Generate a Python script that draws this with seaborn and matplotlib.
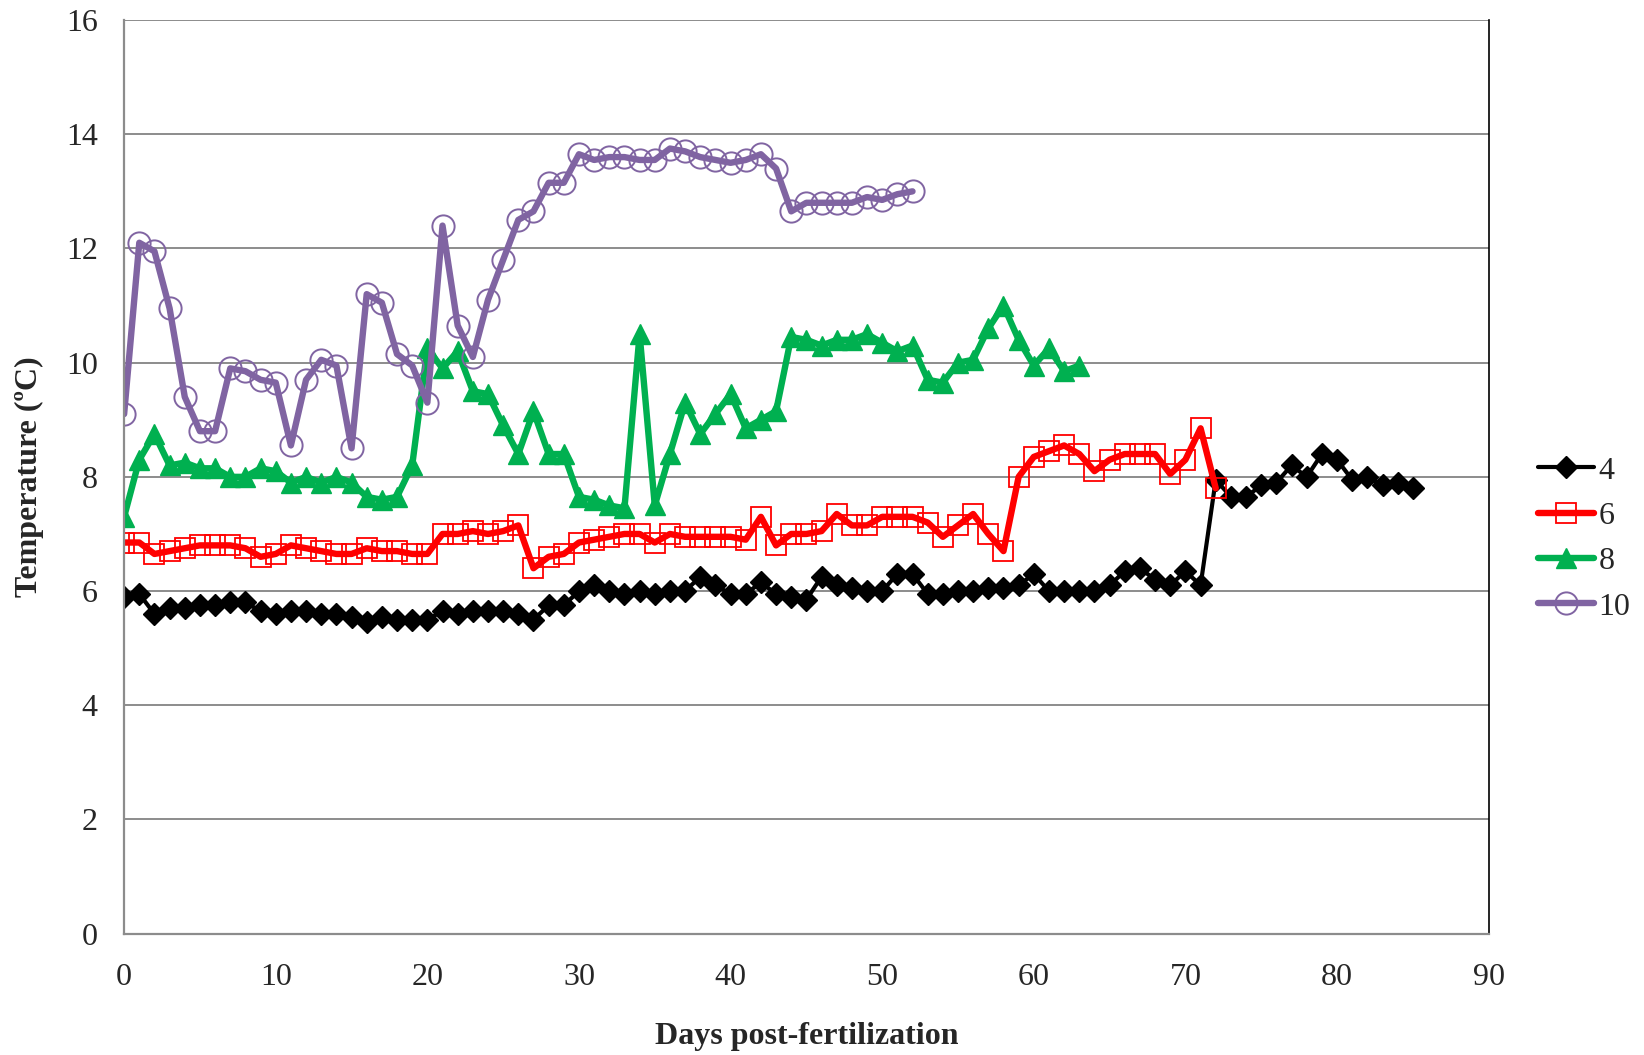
import numpy as np
import pandas as pd
import seaborn as sns
import matplotlib.pyplot as plt

# daily mean temperatures per treatment group
temp_4 = [5.9, 5.95, 5.6, 5.7, 5.7, 5.75, 5.75, 5.8, 5.8, 5.65,
          5.6, 5.65, 5.65, 5.6, 5.6, 5.55, 5.45, 5.55, 5.5, 5.5,
          5.5, 5.65, 5.6, 5.65, 5.65, 5.65, 5.6, 5.5, 5.75, 5.75,
          6.0, 6.1, 6.0, 5.95, 6.0, 5.95, 6.0, 6.0, 6.25, 6.1,
          5.95, 5.95, 6.15, 5.95, 5.9, 5.85, 6.25, 6.1, 6.05, 6.0,
          6.0, 6.3, 6.3, 5.95, 5.95, 6.0, 6.0, 6.05, 6.05, 6.1,
          6.3, 6.0, 6.0, 6.0, 6.0, 6.1, 6.35, 6.4, 6.2, 6.1,
          6.35, 6.1, 7.95, 7.65, 7.65, 7.85, 7.9, 8.2, 8.0, 8.4,
          8.3, 7.95, 8.0, 7.85, 7.9, 7.8]
temp_6 = [6.85, 6.85, 6.65, 6.7, 6.75, 6.8, 6.8, 6.8, 6.75, 6.6,
          6.65, 6.8, 6.75, 6.7, 6.65, 6.65, 6.75, 6.7, 6.7, 6.65,
          6.65, 7.0, 7.0, 7.05, 7.0, 7.05, 7.15, 6.4, 6.6, 6.65,
          6.85, 6.9, 6.95, 7.0, 7.0, 6.85, 7.0, 6.95, 6.95, 6.95,
          6.95, 6.9, 7.3, 6.8, 7.0, 7.0, 7.05, 7.35, 7.15, 7.15,
          7.3, 7.3, 7.3, 7.2, 6.95, 7.15, 7.35, 7.0, 6.7, 8.0,
          8.35, 8.45, 8.55, 8.4, 8.1, 8.3, 8.4, 8.4, 8.4, 8.05,
          8.3, 8.85, 7.8]
temp_8 = [7.3, 8.3, 8.75, 8.2, 8.25, 8.15, 8.15, 8.0, 8.0, 8.15,
          8.1, 7.9, 8.0, 7.9, 8.0, 7.9, 7.65, 7.6, 7.65, 8.2,
          10.25, 9.9, 10.2, 9.5, 9.45, 8.9, 8.4, 9.15, 8.4, 8.4,
          7.65, 7.6, 7.5, 7.45, 10.5, 7.5, 8.4, 9.3, 8.75, 9.1,
          9.45, 8.85, 9.0, 9.15, 10.45, 10.4, 10.3, 10.4, 10.4, 10.5,
          10.35, 10.2, 10.3, 9.7, 9.65, 10.0, 10.05, 10.6, 11.0, 10.4,
          9.95, 10.25, 9.85, 9.95]
temp_10 = [9.1, 12.1, 11.95, 10.95, 9.4, 8.8, 8.8, 9.9, 9.85, 9.7,
           9.65, 8.55, 9.7, 10.05, 9.95, 8.5, 11.2, 11.05, 10.15, 9.95,
           9.3, 12.4, 10.65, 10.1, 11.1, 11.8, 12.5, 12.65, 13.15, 13.15,
           13.65, 13.55, 13.6, 13.6, 13.55, 13.55, 13.75, 13.7, 13.6, 13.55,
           13.5, 13.55, 13.65, 13.4, 12.65, 12.8, 12.8, 12.8, 12.8, 12.9,
           12.85, 12.95, 13.0]

series = {'4': temp_4, '6': temp_6, '8': temp_8, '10': temp_10}
styles = {
    '4':  dict(color='black', marker='D', ms=11, mfc='black', mec='black', mew=1, lw=3),
    '6':  dict(color='#FF0000', marker='s', ms=15, mfc='none', mec='#FF0000', mew=1.3, lw=4.6),
    '8':  dict(color='#00B050', marker='^', ms=15, mfc='#00B050', mec='#00B050', mew=1, lw=4.6),
    '10': dict(color='#8064A2', marker='o', ms=16, mfc='none', mec='#8064A2', mew=1.4, lw=4.6),
}

sns.set_style('white')
plt.rcParams['font.family'] = ['Liberation Serif', 'DejaVu Serif']

fig = plt.figure(figsize=(16.44, 10.55), dpi=100)
ax = fig.add_axes([0.0755, 0.115, 0.830, 0.866])

for name, vals in series.items():
    df = pd.DataFrame({'day': np.arange(len(vals)), 'temp': vals})
    s = styles[name]
    sns.lineplot(data=df, x='day', y='temp', ax=ax, label=name, color=s['color'],
                 marker=s['marker'], markersize=s['ms'], markerfacecolor=s['mfc'],
                 markeredgecolor=s['mec'], markeredgewidth=s['mew'], linewidth=s['lw'])

ax.set_xlim(0, 90)
ax.set_ylim(0, 16)
ax.set_xticks(range(0, 91, 10))
ax.set_yticks(range(0, 17, 2))
ax.yaxis.grid(True, color='#8c8c8c', linewidth=1.4)
ax.set_axisbelow(True)

for side in ['left', 'bottom']:
    ax.spines[side].set_color('#8c8c8c')
    ax.spines[side].set_linewidth(1.6)
ax.spines['top'].set_visible(False)
ax.spines['right'].set_color('black')
ax.spines['right'].set_linewidth(1.2)

ax.tick_params(axis='both', direction='out', length=7, width=1.4, color='#8c8c8c',
               labelsize=23, pad=12)
ax.tick_params(axis='x', pad=14)

ax.set_xlabel('Days post-fertilization', fontsize=23, fontweight='bold', labelpad=22)
ax.set_ylabel('Temperature (\u00baC)', fontsize=23, fontweight='bold', labelpad=16)

ax.legend(loc='center left', bbox_to_anchor=(1.036, 0.432), frameon=False, fontsize=23,
          borderaxespad=0, borderpad=0, handlelength=1.75, handletextpad=0.15,
          labelspacing=0.5)

plt.savefig('out.png', dpi=100)
